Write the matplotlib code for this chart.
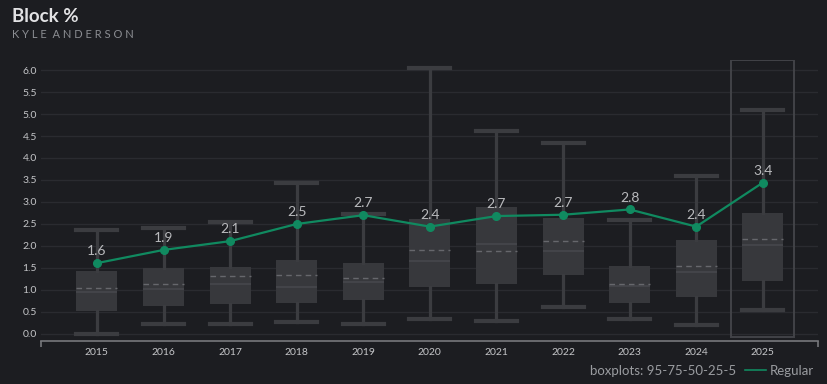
"""Block % boxplots by season with regular-season line."""

import matplotlib
matplotlib.use('Agg')
import matplotlib.pyplot as plt
from matplotlib.patches import Rectangle
from matplotlib.lines import Line2D

BG = '#1c1d21'
BOX = '#37383c'
WHISK = '#3b3c40'
GREEN = '#108a60'
TXT = '#c4c5c8'

seasons = ['2015', '2016', '2017', '2018', '2019', '2020',
           '2021', '2022', '2023', '2024', '2025']
p95 = [2.36, 2.42, 2.55, 3.43, 2.73, 6.05, 4.62, 4.33, 2.60, 3.59, 5.10]
p75 = [1.44, 1.49, 1.52, 1.68, 1.62, 2.61, 2.88, 2.63, 1.54, 2.13, 2.74]
p50 = [0.95, 1.02, 1.13, 1.06, 1.17, 1.65, 2.04, 1.88, 1.10, 1.41, 2.02]
p25 = [0.53, 0.64, 0.67, 0.71, 0.77, 1.06, 1.13, 1.33, 0.70, 0.85, 1.20]
p05 = [0.00, 0.23, 0.23, 0.28, 0.22, 0.33, 0.30, 0.61, 0.35, 0.20, 0.55]
means = [1.05, 1.14, 1.32, 1.34, 1.28, 1.91, 1.88, 2.11, 1.14, 1.55, 2.15]
regular = [1.61, 1.91, 2.11, 2.50, 2.70, 2.44, 2.68, 2.71, 2.83, 2.44, 3.44]

plt.rcParams['font.family'] = ['Lato', 'DejaVu Sans']

fig = plt.figure(figsize=(8.28, 3.84), dpi=100, facecolor=BG)
ax = fig.add_axes([0.0495, 0.112, 0.9385, 0.732], facecolor=BG)

pos = list(range(len(seasons)))
stats = []
for i in pos:
    stats.append({'whislo': p05[i], 'q1': p25[i], 'med': p50[i],
                  'q3': p75[i], 'whishi': p95[i], 'mean': means[i],
                  'fliers': []})

ax.bxp(stats, positions=pos, widths=0.615, patch_artist=True,
       showmeans=True, meanline=True, showfliers=False,
       boxprops=dict(facecolor=BOX, edgecolor=BOX, linewidth=0),
       whiskerprops=dict(color=WHISK, linewidth=2.3),
       capprops=dict(color=WHISK, linewidth=3),
       medianprops=dict(color='#47484d', linewidth=1.1),
       meanprops=dict(color='#66676c', linewidth=1.0, linestyle=(0, (4, 3))),
       capwidths=0.615, zorder=2)

# highlight current season
ax.add_patch(Rectangle((10 - 0.475, -0.07), 0.95, 6.29, fill=False,
                       edgecolor='#424348', linewidth=1.4, zorder=1))

ax.plot(pos, regular, color=GREEN, linewidth=1.6, marker='o',
        markersize=5.5, zorder=4)
for x, y in zip(pos, regular):
    ax.text(x, y + 0.13, f'{y:.1f}', ha='center', va='bottom',
            fontsize=10, color='#b9babd', zorder=5)

ax.set_xlim(-0.84, 10.83)
ax.set_ylim(-0.16, 6.23)
ax.set_yticks([i * 0.5 for i in range(13)])
ax.set_yticklabels([f'{i * 0.5:.1f}' for i in range(13)])
ax.set_xticks(pos)
ax.set_xticklabels(seasons)
ax.tick_params(axis='both', length=0, labelsize=7.5, colors=TXT)
ax.tick_params(axis='y', pad=3)
ax.tick_params(axis='x', pad=5)
ax.set_xticks([-0.84, 10.83], minor=True)
ax.tick_params(axis='x', which='minor', length=4, width=1.2,
               color='#77787c', direction='out')
ax.grid(axis='y', color='#2a2b30', linewidth=1.0, zorder=0)
ax.set_axisbelow(True)
for s in ['top', 'right', 'left']:
    ax.spines[s].set_visible(False)
ax.spines['bottom'].set_color('#77787c')
ax.spines['bottom'].set_linewidth(1.2)

fig.text(0.0145, 0.958, 'Block %', fontsize=13.5, fontweight='bold',
         color='#e2e2e4', va='center')
fig.text(0.0145, 0.91, 'K Y L E  A N D E R S O N',
         fontsize=8, color='#8b8d92', va='center')

fig.text(0.712, 0.034, 'boxplots: 95-75-50-25-5', fontsize=9.5,
         color='#9a9ca0', va='center')
fig.add_artist(Line2D([0.9, 0.925], [0.036, 0.036], color=GREEN,
                      linewidth=1.2, transform=fig.transFigure))
fig.text(0.93, 0.034, 'Regular', fontsize=9.5, color='#9a9ca0', va='center')

fig.savefig('out.png', dpi=100, facecolor=BG)
